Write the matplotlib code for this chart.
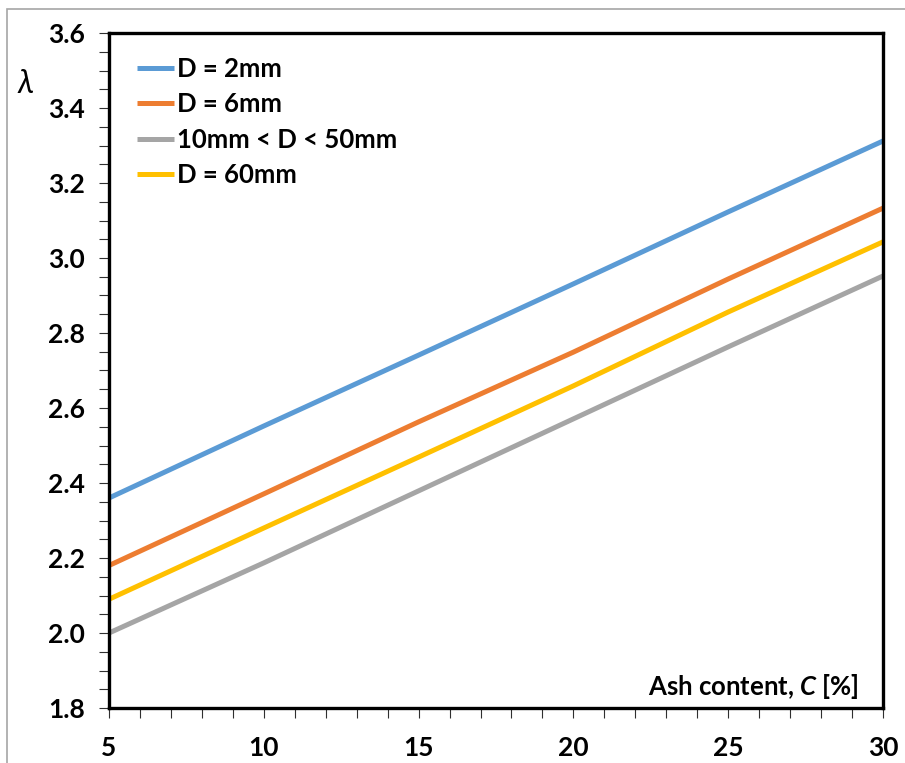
import matplotlib
matplotlib.use("Agg")
import matplotlib.pyplot as plt
import matplotlib.patches as patches
from matplotlib.ticker import MultipleLocator

plt.rcParams['font.family'] = ['Lato', 'DejaVu Sans']
plt.rcParams['mathtext.fontset'] = 'custom'
plt.rcParams['mathtext.rm'] = 'Lato:bold'
plt.rcParams['mathtext.it'] = 'Lato:italic:bold'

# ash content [%]
ash = [5, 10, 15, 20, 25, 30]

lam_d2 = [2.36, 2.552, 2.741, 2.931, 3.123, 3.312]
lam_d6 = [2.18, 2.371, 2.563, 2.749, 2.944, 3.133]
lam_d10_50 = [2.00, 2.187, 2.379, 2.571, 2.763, 2.952]
lam_d60 = [2.09, 2.28, 2.469, 2.659, 2.856, 3.043]

labels = ["D = 2mm", "D = 6mm", "10mm < D < 50mm", "D = 60mm"]
colors = ["#5B9BD5", "#ED7D31", "#A5A5A5", "#FFC000"]

fig = plt.figure(figsize=(9.05, 7.63), dpi=100)
ax = fig.add_axes([109/905, 1-708/763, 774/905, 675/763])

series = [lam_d2, lam_d6, lam_d10_50, lam_d60]
for ys, lab, c in zip(series, labels, colors):
    ax.plot(ash, ys, color=c, lw=3.6, label=lab, solid_capstyle='butt')

ax.set_xlim(5, 30)
ax.set_ylim(1.8, 3.6)
ax.xaxis.set_major_locator(MultipleLocator(5))
ax.xaxis.set_minor_locator(MultipleLocator(1))
ax.yaxis.set_major_locator(MultipleLocator(0.2))
ax.yaxis.set_minor_locator(MultipleLocator(0.05))
ax.yaxis.set_major_formatter(matplotlib.ticker.FormatStrFormatter('%.1f'))

for s in ax.spines.values():
    s.set_linewidth(2.4)
    s.set_color('black')

ax.tick_params(axis='both', which='both', direction='out', length=7.5, width=0.8,
               color='#303030')
ax.tick_params(axis='y', which='major', labelsize=19, pad=10)
ax.tick_params(axis='x', which='major', labelsize=19, pad=13)
for t in ax.get_xticklabels() + ax.get_yticklabels():
    t.set_fontweight('bold')

leg = ax.legend(loc='upper left', bbox_to_anchor=(0.036, 0.965), frameon=False,
                borderpad=0, borderaxespad=0, handlelength=1.45, handletextpad=0.12,
                labelspacing=0.45, prop={'size': 18.5, 'weight': 'bold'})

ax.text(0.969, 0.01, r"Ash content, $C$ [%]", transform=ax.transAxes,
        ha='right', va='bottom', fontsize=18.5, fontweight='bold')

fig.text(26/905, 1-84/763, "λ", fontsize=23, style='italic', ha='center', va='center')

fig.patches.append(patches.Rectangle((7/905, -0.5), 2, 1.5 - 9/763,
                                     transform=fig.transFigure, fill=False,
                                     ec='#a6a6a6', lw=1.2))

fig.savefig("out.png", dpi=100)
